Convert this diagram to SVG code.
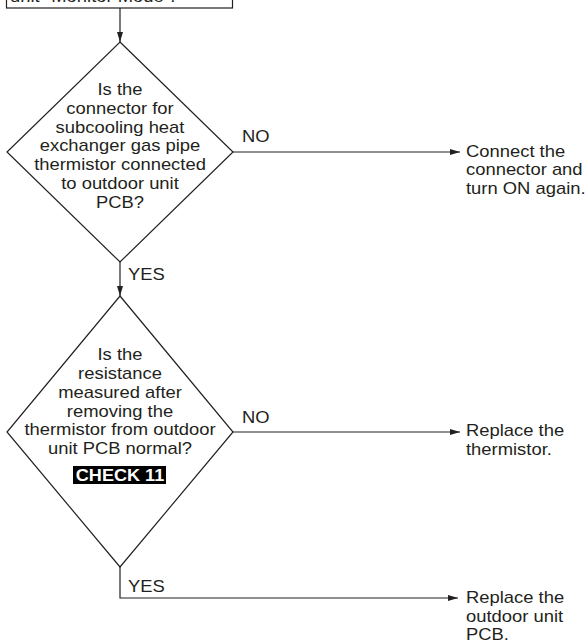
<svg xmlns="http://www.w3.org/2000/svg" width="588" height="641" viewBox="0 0 588 641">
<defs>
<style>
.t{font-family:"Liberation Sans",Arial,sans-serif;font-size:16px;fill:#231f20}
.c{text-anchor:middle}
.b{font-weight:bold;fill:#fff}
.s{fill:#fff;stroke:#231f20;stroke-width:1.2}
.l{fill:none;stroke:#231f20;stroke-width:1.2}
</style>
<marker id="ah" viewBox="0 0 10 6" refX="10" refY="3" markerWidth="10" markerHeight="6" markerUnits="userSpaceOnUse" orient="auto">
<path d="M0,0 L10,3 L0,6 Z" fill="#231f20"/>
</marker>
</defs>
<rect width="588" height="641" fill="#fff"/>

<g id="connectors">
<line class="l" x1="120" y1="8" x2="120" y2="42" marker-end="url(#ah)"/>
<line class="l" x1="233" y1="152" x2="460" y2="152" marker-end="url(#ah)"/>
<line class="l" x1="120" y1="262" x2="120" y2="296" marker-end="url(#ah)"/>
<line class="l" x1="233" y1="432" x2="460" y2="432" marker-end="url(#ah)"/>
<polyline class="l" points="120,567 120,598 458,598" marker-end="url(#ah)"/>
<g transform="translate(242,0) scale(1.15,1)"><text class="t" x="0" y="142">NO</text><text class="t" x="0" y="423">NO</text></g>
<g transform="translate(128,0) scale(1.15,1)"><text class="t" x="0" y="280">YES</text><text class="t" x="0" y="592">YES</text></g>
</g>

<g id="start">
<rect class="s" x="6.5" y="-30" width="226" height="38"/>
<g transform="translate(10,0) scale(1.15,1)"><text class="t" x="0" y="2">unit "Monitor Mode".</text></g>
</g>

<g id="decision1">
<polygon class="s" points="120,42 233,152 120,262 7,152"/>
<g transform="translate(120,0) scale(1.15,1)">
<text class="t c" x="0" y="95">Is the</text>
<text class="t c" x="0" y="113.8">connector for</text>
<text class="t c" x="0" y="132.6">subcooling heat</text>
<text class="t c" x="0" y="151.4">exchanger gas pipe</text>
<text class="t c" x="0" y="170.2">thermistor connected</text>
<text class="t c" x="0" y="189">to outdoor unit</text>
<text class="t c" x="0" y="207.8">PCB?</text>
</g>
</g>

<g id="result1">
<g transform="translate(466,0) scale(1.15,1)">
<text class="t" x="0" y="157">Connect the</text>
<text class="t" x="0" y="175.5">connector and</text>
<text class="t" x="0" y="194">turn ON again.</text>
</g>
</g>

<g id="decision2">
<polygon class="s" points="120,296 233,432 120,567 7,432"/>
<g transform="translate(120,0) scale(1.15,1)">
<text class="t c" x="0" y="360.5">Is the</text>
<text class="t c" x="0" y="379.2">resistance</text>
<text class="t c" x="0" y="397.9">measured after</text>
<text class="t c" x="0" y="416.6">removing the</text>
<text class="t c" x="0" y="435.3">thermistor from outdoor</text>
<text class="t c" x="0" y="454">unit PCB normal?</text>
</g>
<rect x="73" y="466" width="93" height="18" fill="#000"/>
<g transform="translate(120,0) scale(1.13,1)"><text class="t c b" x="0" y="481">CHECK 11</text></g>
</g>

<g id="result2">
<g transform="translate(466,0) scale(1.15,1)">
<text class="t" x="0" y="436">Replace the</text>
<text class="t" x="0" y="455">thermistor.</text>
</g>
</g>

<g id="result3">
<g transform="translate(466,0) scale(1.15,1)">
<text class="t" x="0" y="603">Replace the</text>
<text class="t" x="0" y="622">outdoor unit</text>
<text class="t" x="0" y="640.5">PCB.</text>
</g>
</g>
</svg>
